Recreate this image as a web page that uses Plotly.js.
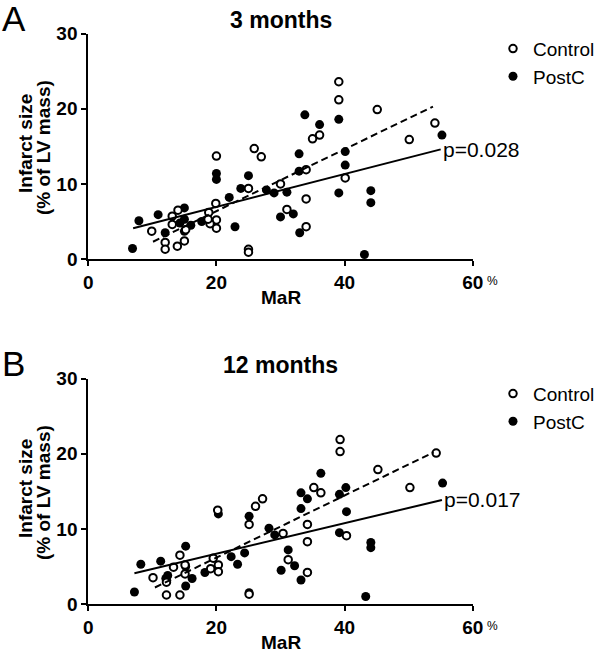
<!DOCTYPE html>
<html>
<head>
<meta charset="utf-8">
<script src="https://cdn.plot.ly/plotly-3.0.1.min.js"></script>
<style>html,body{margin:0;padding:0;background:#fff;}#chart{width:600px;height:655px;}</style>
</head>
<body>
<div id="chart"></div>
<script>
// ---------- DATA ----------
// Panel A: 3 months
const ctrl3_x = [39.1,39.1,45.1,54.1,50.1,35.0,36.1,25.9,27.0,20.0,34.0,40.1,30.0,25.0,34.0,19.9,18.8,20.0,20.0,19.0,31.0,34.0,25.0,25.0,9.9,12.0,12.0,13.9,15.0,13.1,14.0,13.1,15.2,18.7];
const ctrl3_y = [23.6,21.2,19.9,18.1,15.9,16.0,16.5,14.7,13.6,13.7,11.9,10.8,10.0,9.4,8.0,7.4,6.2,5.2,4.1,4.7,6.6,4.3,1.3,0.9,3.7,2.2,1.3,1.7,2.4,5.7,6.5,4.6,3.9,5.3];
const post3_x = [33.8,36.1,39.1,32.9,40.1,40.1,32.9,20.0,20.0,25.0,23.8,22.0,27.8,29.0,31.0,39.1,44.1,44.1,55.2,30.0,32.0,33.0,43.1,22.9,6.9,7.9,10.9,12.0,15.0,15.0,16.0,15.0,17.7,14.3];
const post3_y = [19.2,17.9,18.6,14.0,14.3,12.5,11.7,11.4,10.6,11.1,9.4,8.2,9.2,8.8,8.9,8.8,9.1,7.5,16.5,5.6,6.0,3.5,0.6,4.3,1.4,5.1,5.9,3.5,6.8,5.3,4.5,3.7,5.0,4.8];
const fitCtrl3_x = [10.1, 53.8];
const fitCtrl3_y = [2.3, 20.3];
const fitPost3_x = [7.0, 55.0];
const fitPost3_y = [4.1, 14.6];
const pText3 = "p=0.028";

// Panel B: 12 months
const ctrl12_x = [39.3,39.3,54.3,45.2,50.2,35.2,36.3,27.2,26.1,20.2,25.1,34.2,30.4,40.3,34.2,31.2,34.2,25.1,14.3,15.1,13.3,10.1,12.2,12.2,14.3,15.1,19.5,20.3,20.3,19.1];
const ctrl12_y = [21.9,20.3,20.1,17.9,15.5,15.5,14.8,14.0,13.0,12.5,10.6,10.6,9.4,9.1,8.3,5.9,4.2,1.3,6.5,5.2,4.9,3.5,2.9,1.2,1.2,4.0,6.1,5.2,4.3,4.7];
const post12_x = [36.3,40.2,39.2,33.2,34.2,33.2,40.3,55.3,20.3,25.1,28.2,29.1,39.2,44.1,44.1,31.2,30.1,32.2,33.2,43.3,24.4,22.3,23.3,18.2,7.2,8.2,11.3,12.4,15.2,15.2,16.2,15.2,12.1,25.1];
const post12_y = [17.4,15.5,14.6,14.8,14.0,12.7,12.3,16.1,12.0,11.7,10.1,9.2,9.5,8.2,7.5,7.2,4.5,5.1,3.2,1.0,6.8,6.3,5.3,4.2,1.6,5.3,5.7,3.8,7.7,5.0,3.4,2.4,3.4,1.5];
const fitCtrl12_x = [10.4, 53.9];
const fitCtrl12_y = [2.2, 20.2];
const fitPost12_x = [7.2, 55.2];
const fitPost12_y = [4.1, 13.85];
const pText12 = "p=0.017";

const xTicks = [0, 20, 40, 60];
const yTicks = [0, 10, 20, 30];
const panelTitles = ["3 months", "12 months"];
const panelLetters = ["A", "B"];
const xTitle = "MaR";
const yTitle1 = "Infarct size";
const yTitle2 = "(% of LV mass)";
const groupNames = ["Control", "PostC"];

// ---------- LAYOUT HELPERS ----------
const W = 600, H = 655;
const px = v => v / W;
const py = v => 1 - v / H;
const FONT = "Arial, 'Liberation Sans', Helvetica, sans-serif";

const panels = [
  {xa: 'x', ya: 'y', leg: 'legend', top: 33.7, bottom: 259,
   cx: ctrl3_x, cy: ctrl3_y, pxs: post3_x, pys: post3_y,
   fcx: fitCtrl3_x, fcy: fitCtrl3_y, fpx: fitPost3_x, fpy: fitPost3_y, p: pText3},
  {xa: 'x2', ya: 'y2', leg: 'legend2', top: 378.7, bottom: 604,
   cx: ctrl12_x, cy: ctrl12_y, pxs: post12_x, pys: post12_y,
   fcx: fitCtrl12_x, fcy: fitCtrl12_y, fpx: fitPost12_x, fpy: fitPost12_y, p: pText12}
];

const traces = [];
const annotations = [];
const layout = {
  width: W, height: H,
  margin: {l: 0, r: 0, t: 0, b: 0},
  paper_bgcolor: '#fff', plot_bgcolor: '#fff',
  font: {family: FONT, color: '#000'},
  showlegend: true,
  annotations: annotations
};

panels.forEach((P, i) => {
  traces.push({
    type: 'scatter', mode: 'markers', name: groupNames[1],
    x: P.pxs, y: P.pys, xaxis: P.xa, yaxis: P.ya, legend: P.leg, legendrank: 2,
    marker: {symbol: 'circle', size: 9, color: '#000', line: {width: 0}},
    cliponaxis: false
  });
  traces.push({
    type: 'scatter', mode: 'markers', name: groupNames[0],
    x: P.cx, y: P.cy, xaxis: P.xa, yaxis: P.ya, legend: P.leg, legendrank: 1,
    marker: {symbol: 'circle', size: 7.5, color: '#fff', line: {width: 2, color: '#000'}},
    cliponaxis: false
  });
  traces.push({
    type: 'scatter', mode: 'lines', x: P.fcx, y: P.fcy, xaxis: P.xa, yaxis: P.ya,
    showlegend: false, line: {color: '#000', width: 2, dash: '7px,4px'}, hoverinfo: 'skip'
  });
  traces.push({
    type: 'scatter', mode: 'lines', x: P.fpx, y: P.fpy, xaxis: P.xa, yaxis: P.ya,
    showlegend: false, line: {color: '#000', width: 2}, hoverinfo: 'skip'
  });

  const sfx = i === 0 ? '' : '2';
  layout['xaxis' + sfx] = {
    domain: [px(88.3), px(472.7)], range: [0, 60], anchor: P.ya,
    tickvals: xTicks, ticktext: xTicks.map(String),
    showline: true, linecolor: '#000', linewidth: 2,
    ticks: 'outside', ticklen: 5, tickwidth: 2, tickcolor: '#000',
    showgrid: false, zeroline: false, automargin: false, fixedrange: true,
    ticklabelstandoff: 0,
    tickfont: {family: FONT, size: 19, weight: 'bold', color: '#000'}
  };
  layout['yaxis' + sfx] = {
    domain: [py(P.bottom), py(P.top)], range: [0, 30], anchor: P.xa,
    tickvals: yTicks, ticktext: yTicks.map(String),
    showline: true, linecolor: '#000', linewidth: 2,
    ticks: 'outside', ticklen: 5, tickwidth: 2, tickcolor: '#000',
    showgrid: false, zeroline: false, automargin: false, fixedrange: true,
    tickfont: {family: FONT, size: 19, weight: 'bold', color: '#000'}
  };
  layout[P.leg] = {
    x: px(493), xanchor: 'left', y: py(P.top - 4), yanchor: 'top',
    bgcolor: 'rgba(0,0,0,0)', borderwidth: 0,
    font: {family: FONT, size: 19, color: '#000'}
  };

  const off = P.top - 33.7;
  annotations.push({xref: 'paper', yref: 'paper', x: px(0), y: py(18 + off), xanchor: 'left', yanchor: 'middle',
    text: panelLetters[i], showarrow: false, font: {family: FONT, size: 35, color: '#000'}});
  annotations.push({xref: 'paper', yref: 'paper', x: px(280.5), y: py(20 + off), xanchor: 'center', yanchor: 'middle',
    text: '<b>' + panelTitles[i] + '</b>', showarrow: false, font: {family: FONT, size: 23, color: '#000'}});
  annotations.push({xref: 'paper', yref: 'paper', x: px(280.5), y: py(309.5 + off), xanchor: 'center', yanchor: 'bottom',
    text: '<b>' + xTitle + '</b>', showarrow: false, font: {family: FONT, size: 19, color: '#000'}});
  annotations.push({xref: 'paper', yref: 'paper', x: px(26), y: py(144 + off), xanchor: 'center', yanchor: 'middle',
    text: '<b>' + yTitle1 + '</b>', textangle: -90, showarrow: false, font: {family: FONT, size: 19, color: '#000'}});
  annotations.push({xref: 'paper', yref: 'paper', x: px(43), y: py(148 + off), xanchor: 'center', yanchor: 'middle',
    text: '<b>' + yTitle2 + '</b>', textangle: -90, showarrow: false, font: {family: FONT, size: 19, color: '#000'}});
  annotations.push({xref: P.xa, yref: 'paper', x: xTicks[xTicks.length - 1], y: py(281 + off), xanchor: 'left', yanchor: 'middle',
    xshift: 12, text: '%', showarrow: false, font: {family: FONT, size: 12, color: '#000'}});
  annotations.push({xref: P.xa, yref: P.ya, x: P.fpx[1], y: P.fpy[1], xanchor: 'left', yanchor: 'middle',
    xshift: 0, text: P.p, showarrow: false, font: {family: FONT, size: 21, color: '#000'}});
});

Plotly.newPlot('chart', traces, layout, {staticPlot: true});
</script>
</body>
</html>
